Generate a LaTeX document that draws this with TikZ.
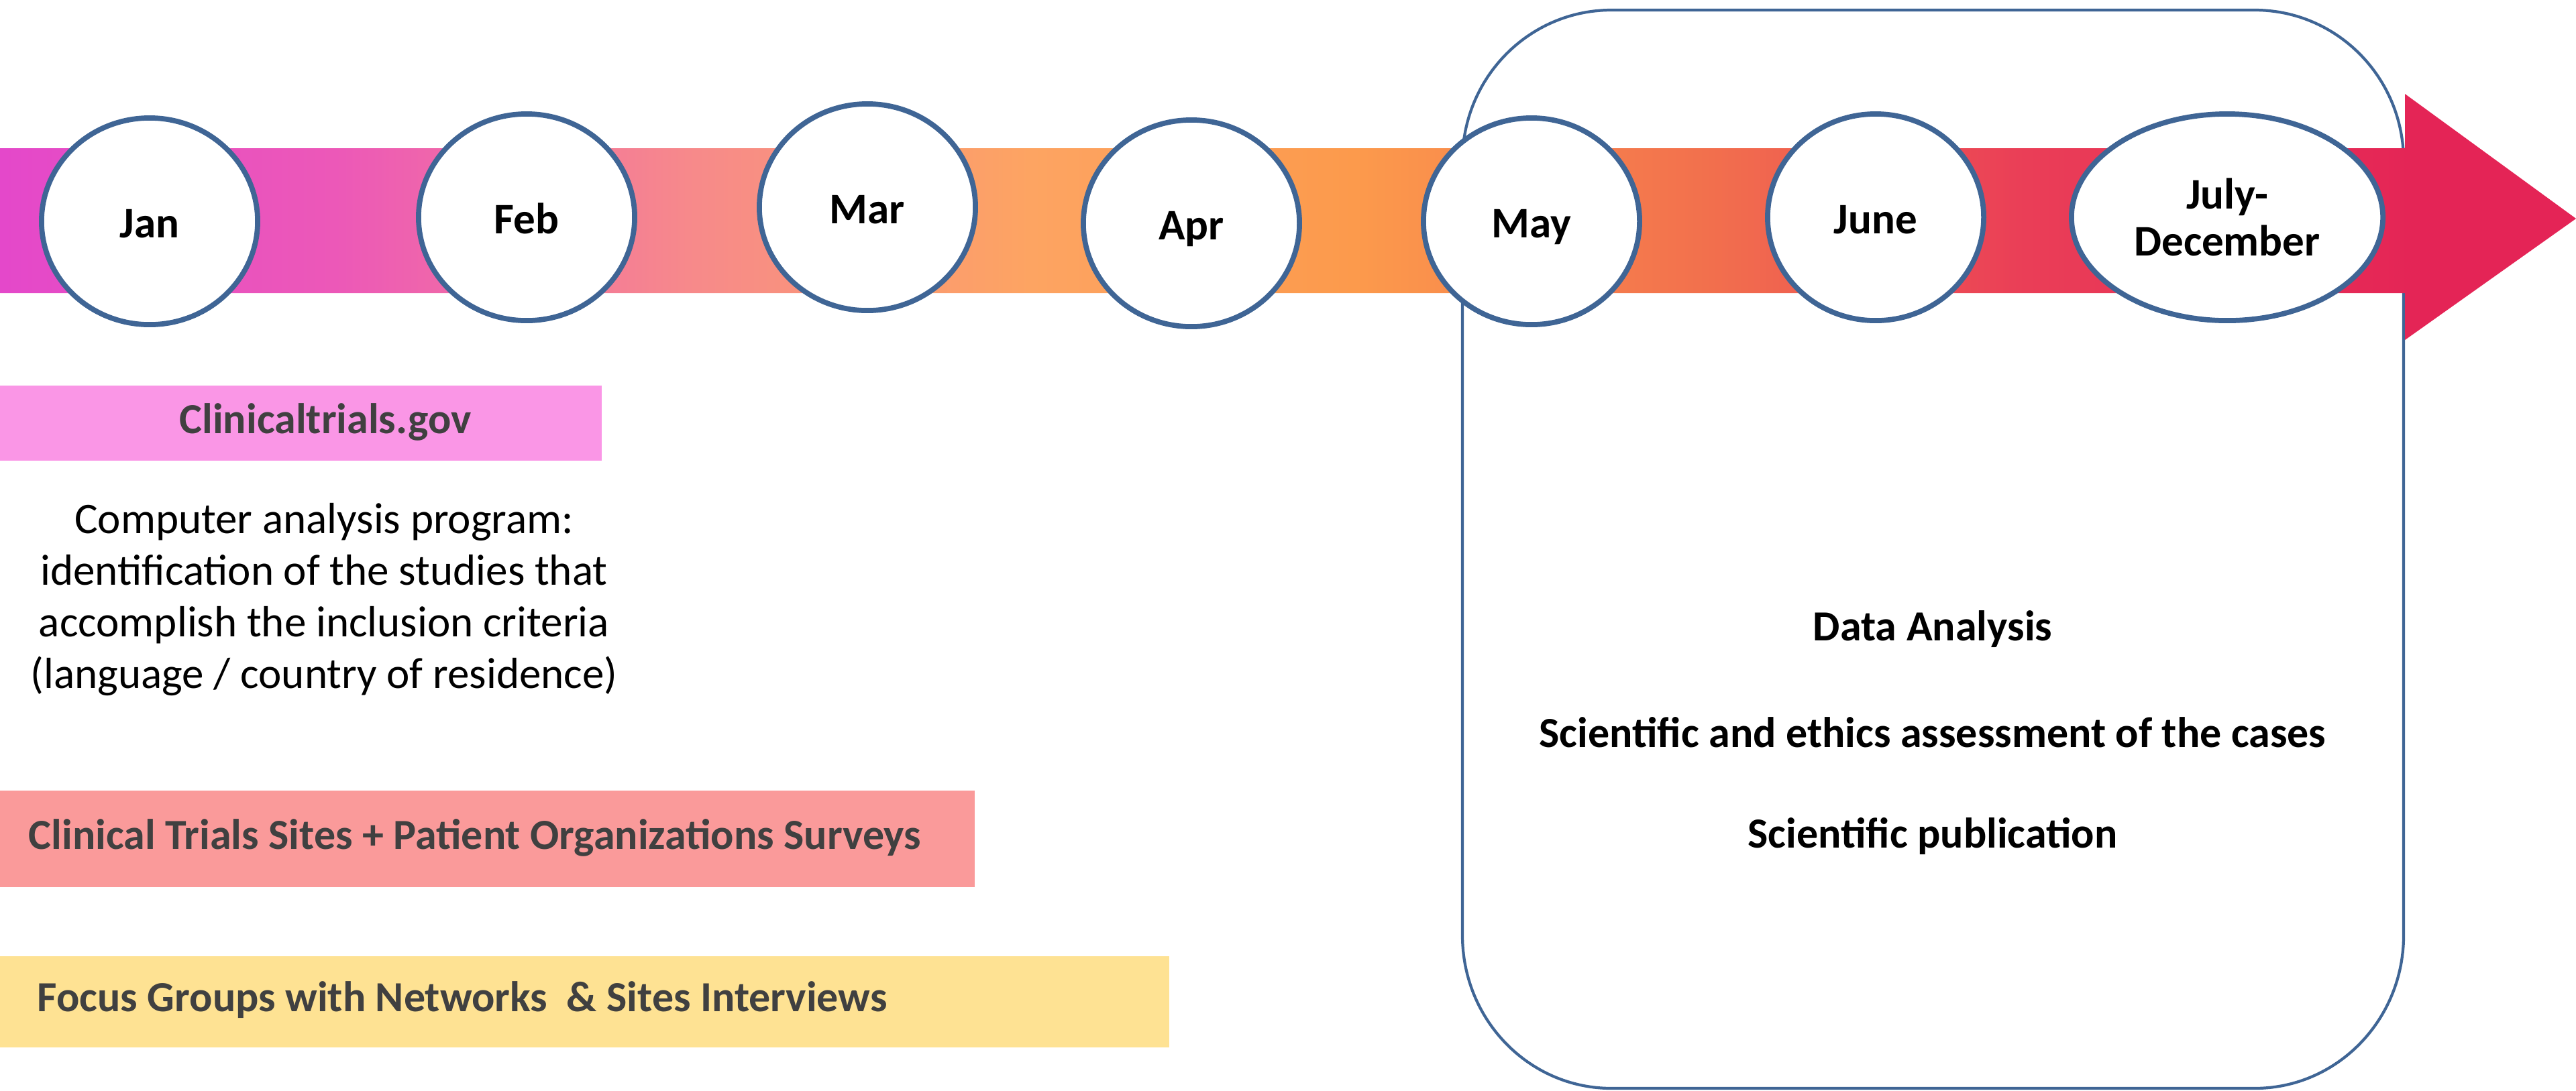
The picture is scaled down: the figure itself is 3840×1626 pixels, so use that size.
\documentclass[tikz,border=0pt]{standalone}
\usepackage{fontspec}
\setmainfont{Carlito}
\usetikzlibrary{shapes.geometric}
\usetikzlibrary{positioning}

\definecolor{edgeblue}{HTML}{3F6595}
\definecolor{ctpink}{HTML}{FA96E6}
\definecolor{surveyred}{HTML}{FA9A9A}
\definecolor{focusyellow}{HTML}{FEE293}
\definecolor{bargray}{HTML}{404040}

% colours along the time band
\definecolor{tb0}{HTML}{E448CA}
\definecolor{tb1}{HTML}{EC58B8}
\definecolor{tb2}{HTML}{F78A8A}
\definecolor{tb3}{HTML}{FDA462}
\definecolor{tb4}{HTML}{FC9A4C}
\definecolor{tb5}{HTML}{F2704D}
\definecolor{tb6}{HTML}{EA3E57}
\definecolor{tb7}{HTML}{E42456}
\pgfdeclarehorizontalshading{timeband}{100bp}{color(0bp)=(tb0); color(25bp)=(tb0);
  color(31.5bp)=(tb1); color(38.5bp)=(tb2); color(45bp)=(tb3); color(51.3bp)=(tb4);
  color(58.1bp)=(tb5); color(64.3bp)=(tb6); color(72.1bp)=(tb7); color(75bp)=(tb7);
  color(100bp)=(tb7)}

\tikzset{
  month/.style={ellipse, draw=edgeblue, line width=2.2pt, fill=white, inner sep=0pt,
    font=\fontsize{18.5}{20}\selectfont\bfseries, align=center},
  bar/.style={rectangle, inner sep=0pt},
  bartext/.style={text=bargray, font=\fontsize{18.2}{20}\selectfont\bfseries, inner sep=0pt},
  task/.style={font=\fontsize{18.2}{22}\selectfont\bfseries, inner sep=0pt}
}

\begin{document}
\begin{tikzpicture}[x=0.01cm, y=-0.01cm]
  \useasboundingbox (0,0) rectangle (3840,1626);

  %analysis frame
  \draw[edgeblue, line width=1.2pt, fill=white]
    (2180,240) arc[start angle=180, end angle=270, x radius=222, y radius=225]
    -- (3361,15) arc[start angle=270, end angle=360, x radius=222, y radius=225]
    -- (3583,1395) arc[start angle=0, end angle=90, x radius=222, y radius=228]
    -- (2402,1623) arc[start angle=90, end angle=180, x radius=222, y radius=228]
    -- cycle;

  %time band with arrow head
  \shade[shading=timeband] (0,221) -- (3585,221) -- (3585,140) -- (3840,326)
    -- (3585,507) -- (3585,437) -- (0,437) -- cycle;

  %draw months
  \def\w{3.22cm};
  \def\h{3.08cm};
  \foreach \x/\y/\name/\txt in {223/330/jan/Jan, 785/324/feb/Feb, 1293/309/mar/Mar,
      1776/333/apr/Apr, 2283/330/may/May, 2796/324/june/June}{
    \node[month, minimum width=\w, minimum height=\h, text height=13.8pt, text depth=0pt]
      (\name) at (\x,\y) {\txt};
  }
  \node[month, minimum width=4.64cm, minimum height=\h] (julydec) at (3320,324) {July-\\December};

  %bars on the left
  \node[bar, fill=ctpink, minimum width=8.97cm, minimum height=1.12cm] (ctgov) at (448,631) {};
  \node[bartext] (ctgovtxt) at (485,629) {Clinicaltrials.gov};

  \node[align=center, font=\fontsize{18.5}{21.9}\selectfont, inner sep=0pt] (program) at (483,894)
    {Computer analysis program:\\identification of the studies that\\accomplish the inclusion criteria\\(language / country of residence)};

  \node[bar, fill=surveyred, minimum width=14.53cm, minimum height=1.43cm] (surveys) at (726,1251) {};
  \node[bartext, anchor=west] (surveystxt) at (42,1249) {Clinical Trials Sites + Patient Organizations Surveys};

  \node[bar, fill=focusyellow, minimum width=17.42cm, minimum height=1.35cm] (focus) at (871,1494) {};
  \node[bartext, anchor=west] (focustxt) at (55,1491) {Focus Groups with Networks\ \ \& Sites Interviews};

  %tasks in the frame
  \node[task] (analysis) at (2881,938) {Data Analysis};
  \node[task] (ethics) at (2881,1092) {Scientific and ethics assessment of the cases};
  \node[task] (publication) at (2881,1247) {Scientific publication};

\end{tikzpicture}
\end{document}
